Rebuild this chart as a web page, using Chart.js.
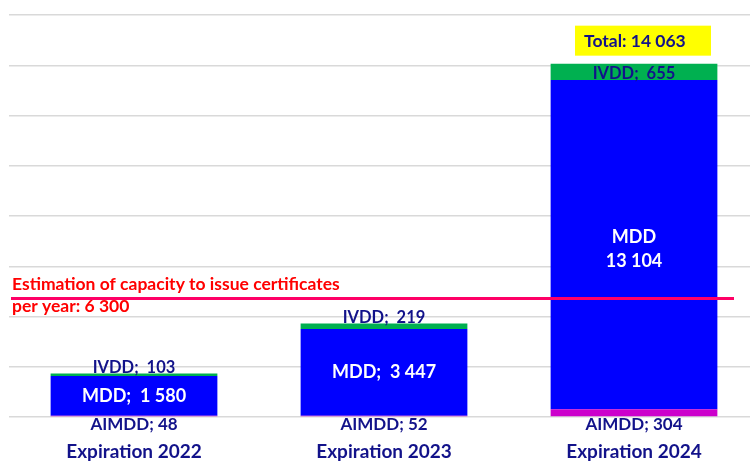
<!DOCTYPE html>
<html>
<head>
<meta charset="utf-8">
<script src="https://cdn.jsdelivr.net/npm/chart.js@4"></script>
<style>
  body { margin: 0; background: #fff; }
  #wrap { width: 750px; height: 462px; overflow: hidden; position: relative; }
  #wrap canvas { position: absolute; left: 0; top: 0; }
</style>
</head>
<body>
<div id="wrap"><canvas id="myGraph" width="759" height="462"></canvas></div>
<script>
var categories = ['Expiration 2022', 'Expiration 2023', 'Expiration 2024'];
var aimdd = [48, 52, 304];
var mdd = [1580, 3447, 13104];
var ivdd = [103, 219, 655];
var totals = [1731, 3718, 14063];

// the red line sits lower than its own label says
var capacityLabel = 6300;
var capacityLinePos = 4720;

var navy = '#12128a';
var fontName = 'Lato';

function fmt(n) {
    return String(n).replace(/\B(?=(\d{3})+(?!\d))/g, ' ');
}

var labelsPlugin = {
    id: 'labels',
    afterDatasetsDraw: function(chart) {
        var ctx = chart.ctx;
        var area = chart.chartArea;
        var yScale = chart.scales.y;
        var mA = chart.getDatasetMeta(0).data;
        var mM = chart.getDatasetMeta(1).data;
        var mI = chart.getDatasetMeta(2).data;
        ctx.save();
        ctx.textAlign = 'center';

        for (var i = 0; i < categories.length; i++) {
            // AIMDD under the bar
            ctx.fillStyle = navy;
            ctx.font = 'bold 17px ' + fontName;
            ctx.textBaseline = 'middle';
            ctx.fillText('AIMDD; ' + fmt(aimdd[i]), mA[i].x, area.bottom + 8);

            // MDD inside
            var m = mM[i];
            var mid = (m.y + m.base) / 2;
            ctx.fillStyle = '#ffffff';
            ctx.font = 'bold 18px ' + fontName;
            if (m.base - m.y > 150) {
                ctx.fillText('MDD', m.x, mid - 8);
                ctx.fillText(fmt(mdd[i]), m.x, mid + 16);
            } else {
                ctx.fillText('MDD;  ' + fmt(mdd[i]), m.x, mid);
            }

            // IVDD on top
            var v = mI[i];
            ctx.fillStyle = navy;
            ctx.font = 'bold 16.5px ' + fontName;
            if (v.base - v.y < 12) {
                ctx.textBaseline = 'alphabetic';
                ctx.fillText('IVDD;  ' + fmt(ivdd[i]), v.x, v.y - 1);
            } else {
                ctx.textBaseline = 'middle';
                ctx.fillText('IVDD;  ' + fmt(ivdd[i]), v.x, (v.y + v.base) / 2 + 2);
            }
        }

        // total box over the last bar
        var last = mI[mI.length - 1];
        ctx.fillStyle = '#ffff00';
        ctx.fillRect(last.x - 59, last.y - 38, 136, 30);
        ctx.fillStyle = navy;
        ctx.font = 'bold 17.5px ' + fontName;
        ctx.textAlign = 'left';
        ctx.textBaseline = 'alphabetic';
        ctx.fillText('Total: ' + fmt(totals[totals.length - 1]), last.x - 50, last.y - 17);

        // capacity line
        var ly = yScale.getPixelForValue(capacityLinePos);
        ctx.strokeStyle = '#ff0066';
        ctx.lineWidth = 3;
        ctx.beginPath();
        ctx.moveTo(11, ly);
        ctx.lineTo(734, ly);
        ctx.stroke();
        ctx.fillStyle = '#ff0000';
        ctx.font = 'bold 17.5px ' + fontName;
        ctx.fillText('Estimation of capacity to issue certificates', 12, ly - 8);
        ctx.fillText('per year: ' + fmt(capacityLabel), 12, ly + 14);
        ctx.restore();
    }
};

var ctx = document.getElementById('myGraph');
var myGraph = new Chart(ctx, {
    type: 'bar',
    data: {
        labels: categories,
        datasets: [
            { label: 'AIMDD', data: aimdd, backgroundColor: '#cc00cc' },
            { label: 'MDD', data: mdd, backgroundColor: '#0000ff' },
            { label: 'IVDD', data: ivdd, backgroundColor: '#00b050' }
        ]
    },
    options: {
        responsive: false,
        animation: false,
        layout: { padding: { left: 9, top: 15, right: 0, bottom: 1 } },
        datasets: { bar: { categoryPercentage: 1, barPercentage: 0.667 } },
        plugins: {
            legend: { display: false },
            tooltip: { enabled: false }
        },
        scales: {
            x: {
                stacked: true,
                grid: { display: false, drawTicks: false },
                border: { display: false },
                ticks: {
                    color: navy,
                    padding: 23,
                    font: { family: fontName, size: 19, weight: 'bold' }
                },
                afterFit: function(scale) { scale.height = 44; }
            },
            y: {
                stacked: true,
                min: 0,
                max: 16000,
                grid: { color: '#d9d9d9', lineWidth: 1.5, drawTicks: false },
                border: { display: false },
                ticks: { display: false, stepSize: 2000 }
            }
        }
    },
    plugins: [labelsPlugin]
});
</script>
</body>
</html>
